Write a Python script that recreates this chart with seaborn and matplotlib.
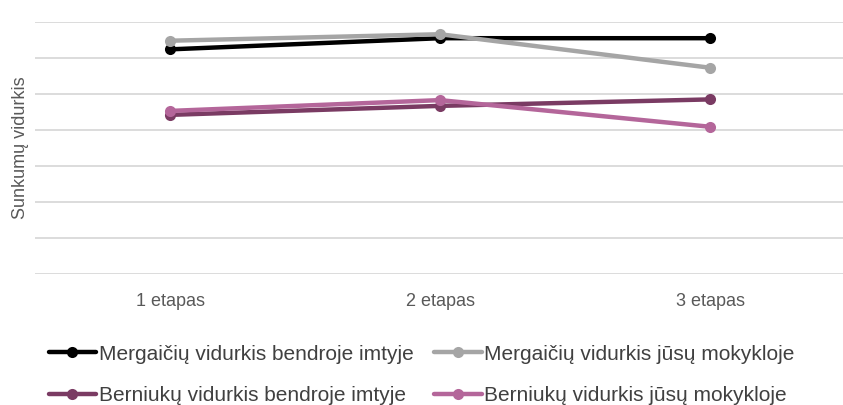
import matplotlib
matplotlib.use("Agg")
import matplotlib.pyplot as plt
import seaborn as sns
import pandas as pd

etapai = ["1 etapas", "2 etapas", "3 etapas"]
serijos = [
    "Mergaičių vidurkis bendroje imtyje",
    "Mergaičių vidurkis jūsų mokykloje",
    "Berniukų vidurkis bendroje imtyje",
    "Berniukų vidurkis jūsų mokykloje",
]
merg_bendra = [6.24, 6.55, 6.55]
merg_mokykla = [6.48, 6.66, 5.73]
bern_bendra = [4.42, 4.67, 4.85]
bern_mokykla = [4.53, 4.83, 4.09]
spalvos = ["#000000", "#A5A5A5", "#7A3B63", "#B4669A"]

rows = []
for name, vals in zip(serijos, [merg_bendra, merg_mokykla, bern_bendra, bern_mokykla]):
    for et, v in zip(etapai, vals):
        rows.append({"etapas": et, "reiksme": v, "serija": name})
df = pd.DataFrame(rows)

sns.set_style("white")
plt.rcParams["font.family"] = ["Liberation Sans", "DejaVu Sans"]

fig = plt.figure(figsize=(8.43, 4.05), dpi=100)
ax = fig.add_axes([35 / 843, 1 - 274 / 405, 810 / 843, 252 / 405])

sns.lineplot(
    data=df, x="etapas", y="reiksme", hue="serija",
    palette=spalvos, hue_order=serijos,
    marker="o", markersize=8, markeredgewidth=0,
    linewidth=3.2, ax=ax, legend=False,
)

ax.set_xlim(-0.5, 2.5)
ax.set_ylim(0, 7)
ax.set_yticks(range(0, 8))
ax.set_yticklabels([])
ax.grid(axis="y", color="#D9D9D9", linewidth=1.3)
ax.set_axisbelow(True)
for s in ax.spines.values():
    s.set_visible(False)
ax.tick_params(axis="both", length=0)
ax.tick_params(axis="y", pad=0)
ax.tick_params(axis="x", labelsize=13, colors="#595959", pad=14)
ax.set_xlabel("")
ax.set_ylabel("Sunkumų vidurkis", fontsize=13, color="#595959", labelpad=4)

handles = [
    plt.Line2D([], [], color=c, linewidth=3.2, marker="o", markersize=8, markeredgewidth=0)
    for c in spalvos
]
# eilutėmis: pirmoje eilutėje mergaitės, antroje berniukai
tvarka = [0, 2, 1, 3]
fig.legend(
    [handles[i] for i in tvarka], [serijos[i] for i in tvarka],
    loc="center", bbox_to_anchor=(0.5, 1 - 375 / 405),
    ncol=2, frameon=False, fontsize=15, labelcolor="#404040",
    handlelength=2.3, handletextpad=0.1, columnspacing=1.0, labelspacing=1.1,
)

fig.savefig("out.png", dpi=100)
